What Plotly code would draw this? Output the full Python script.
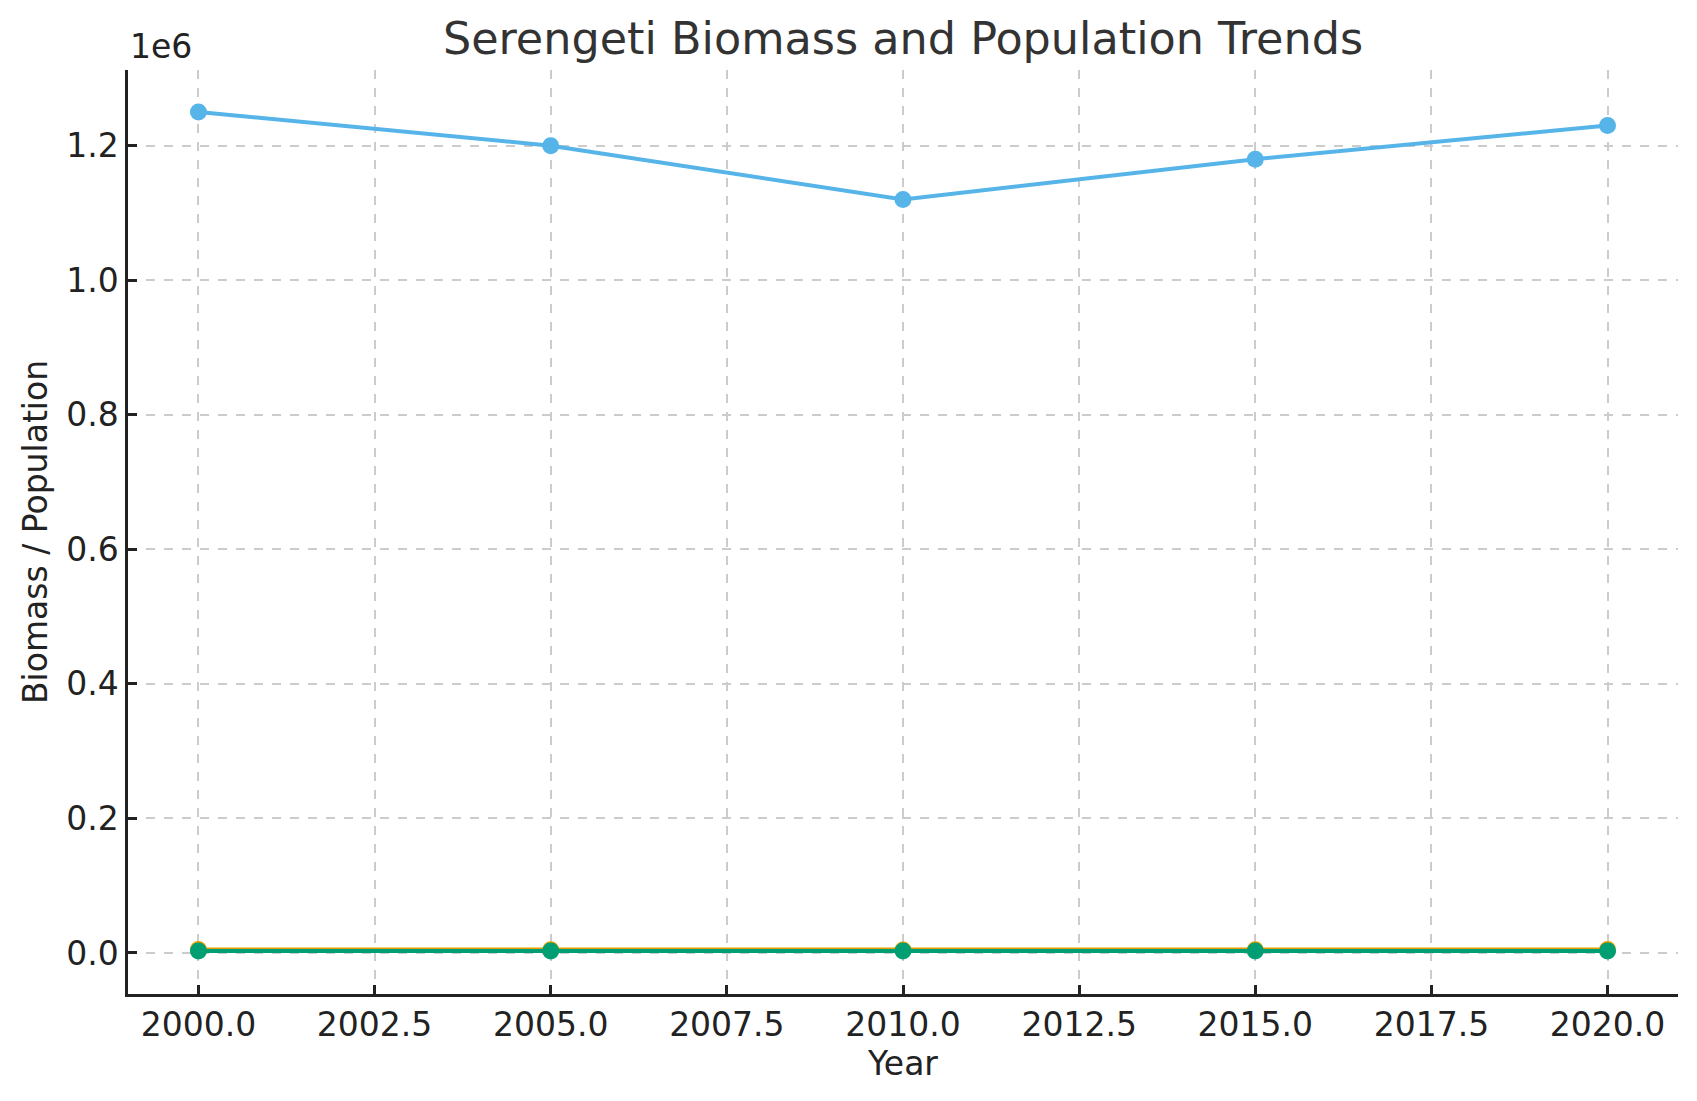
import plotly.graph_objects as go

years = [2000, 2005, 2010, 2015, 2020]
wildebeest = [1250000, 1200000, 1120000, 1180000, 1230000]
elephants = [5000, 4800, 4500, 4700, 5100]
lions = [3000, 2900, 2800, 2850, 3100]

series_names = ["Wildebeest Population", "Elephant Population", "Lion Population"]
series_colors = ["#56B4E9", "#E69F00", "#009E73"]

x_ticks = [2000.0, 2002.5, 2005.0, 2007.5, 2010.0, 2012.5, 2015.0, 2017.5, 2020.0]
y_ticks = [0, 200000, 400000, 600000, 800000, 1000000, 1200000]
y_tick_labels = ["0.0", "0.2", "0.4", "0.6", "0.8", "1.0", "1.2"]

FONT = "DejaVu Sans"
FS = 33

fig = go.Figure()
for name, vals, col in zip(series_names, [wildebeest, elephants, lions], series_colors):
    fig.add_trace(go.Scatter(
        x=years, y=vals, name=name, mode="lines+markers",
        line=dict(color=col, width=4),
        marker=dict(color=col, size=17),
    ))

fig.update_layout(
    width=1697, height=1101,
    margin=dict(l=128, r=19, t=70, b=107),
    paper_bgcolor="white", plot_bgcolor="white",
    showlegend=False,
    font=dict(family=FONT, size=FS, color="#222222"),
    title=dict(text="Serengeti Biomass and Population Trends",
               x=903 / 1697, xanchor="center",
               y=1 - 38 / 1101, yanchor="middle",
               font=dict(family=FONT, size=44.5, color="#333333")),
)

fig.update_xaxes(
    range=[1999.0, 2021.0],
    tickvals=x_ticks, ticktext=[f"{v:.1f}" for v in x_ticks],
    ticks="inside", ticklen=9, tickwidth=2.5, tickcolor="#222222",
    showline=True, linecolor="#222222", linewidth=2.5, mirror=False,
    showgrid=True, gridcolor="#cccccc", gridwidth=1.5, griddash="dash",
    zeroline=False,
    title=dict(text="Year", font=dict(family=FONT, size=FS, color="#222222"), standoff=8),
    tickfont=dict(family=FONT, size=FS, color="#222222"),
)

fig.update_yaxes(
    range=[-61000, 1312500],
    tickvals=y_ticks, ticktext=y_tick_labels,
    ticks="inside", ticklen=9, tickwidth=2.5, tickcolor="#222222",
    showline=True, linecolor="#222222", linewidth=2.5, mirror=False,
    showgrid=True, gridcolor="#cccccc", gridwidth=1.5, griddash="dash",
    zeroline=False,
    title=dict(text="Biomass / Population", font=dict(family=FONT, size=FS, color="#222222"), standoff=9),
    tickfont=dict(family=FONT, size=FS, color="#222222"),
)

fig.add_annotation(
    text="1e6", xref="paper", yref="paper", x=0, y=1, xanchor="left", yanchor="bottom",
    yshift=2, showarrow=False, font=dict(family=FONT, size=FS, color="#222222"),
)

fig.write_html("out.html")
